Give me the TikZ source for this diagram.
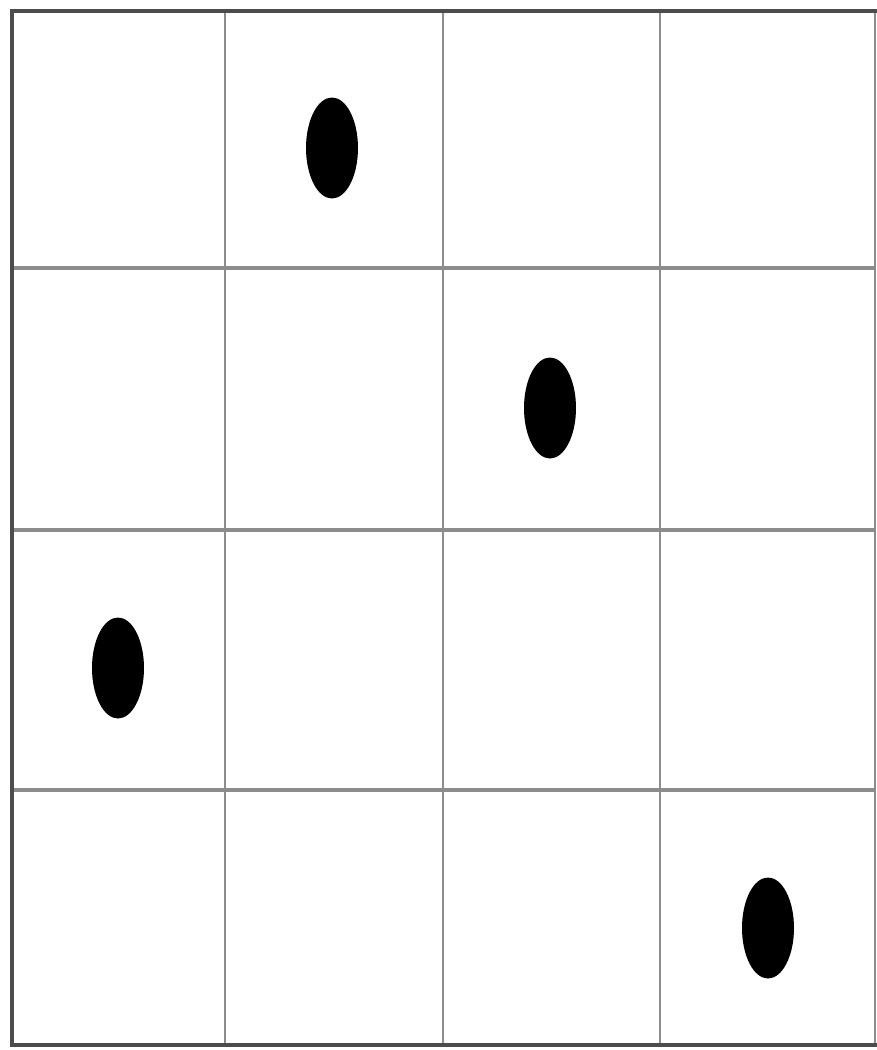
\documentclass[tikz,border=0pt]{standalone}
\usetikzlibrary{shapes.geometric}
\begin{document}
\begin{tikzpicture}[x=1pt,y=-1pt,
  gridline/.style={draw=black!45,line width=2.5pt},
  hgridline/.style={draw=black!45,line width=3.5pt},
  frameline/.style={draw=black!70,line width=4.5pt,line cap=rect},
  dot/.style={ellipse,fill=black,minimum width=52pt,minimum height=101pt,inner sep=0pt}]
\useasboundingbox (0,0) rectangle (877,1050);
\fill[white] (0,0) rectangle (877,1050);
% inner grid lines
\foreach \x in {225,443,660} \draw[gridline] (\x,11) -- (\x,1045);
\foreach \y in {268,530,790} \draw[hgridline] (12,\y) -- (875,\y);
% right edge (thin)
\draw[draw=black!45,line width=2pt] (875,11) -- (875,1045);
% frame
\draw[frameline] (12,1045) -- (12,11) -- (877,11);
\draw[frameline] (12,1045) -- (877,1045);
% dots
\node[dot] (d1) at (332,148) {};
\node[dot] (d2) at (550,408) {};
\node[dot] (d3) at (118,668) {};
\node[dot] (d4) at (768,928) {};
\end{tikzpicture}
\end{document}
